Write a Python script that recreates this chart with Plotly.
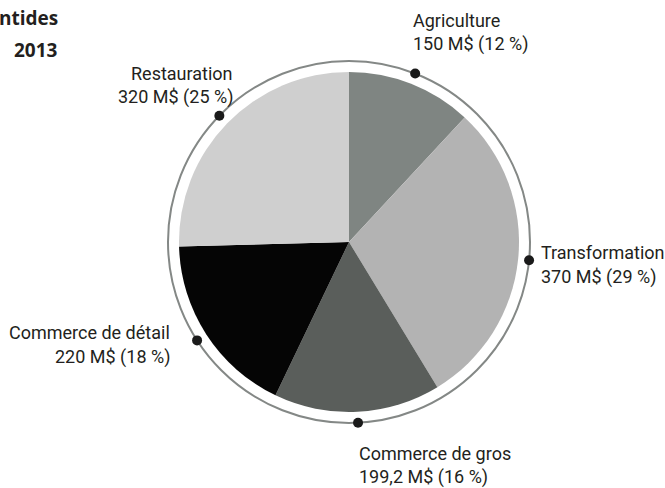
import math
import plotly.graph_objects as go

# ---- data ----
categories = ["Agriculture", "Transformation", "Commerce de gros", "Commerce de détail", "Restauration"]
values = [150, 370, 199.2, 220, 320]
value_labels = ["150", "370", "199,2", "220", "320"]
percents = [12, 29, 16, 18, 25]
colors = ["#7f8582", "#b3b3b3", "#5a5e5b", "#050505", "#cfcfcf"]
title_lines = ["ntides", "2013"]

# ---- layout constants (pixels) ----
W, H = 665, 488
CX, CY = 349, 242
R_PIE = 170
R_RING = 181
FONT = "Roboto"
TXT = "#231f20"

# label anchor positions (x, line1 center-y, line2 center-y, xanchor)
label_pos = {
    "Agriculture": (411, 20, 44, "left"),
    "Transformation": (539, 252, 277, "left"),
    "Commerce de gros": (357, 453, 477, "left"),
    "Commerce de détail": (172, 332, 357, "right"),
    "Restauration": (235, 73, 97, "right"),
}

fig = go.Figure()

fig.add_trace(go.Pie(
    labels=categories,
    values=values,
    sort=False,
    direction="clockwise",
    rotation=0,
    marker=dict(colors=colors, line=dict(width=0)),
    textinfo="none",
    hoverinfo="label+value",
    showlegend=False,
    domain=dict(x=[(CX - R_PIE) / W, (CX + R_PIE) / W],
                y=[1 - (CY + R_PIE) / H, 1 - (CY - R_PIE) / H]),
))

# dots at the middle angle of each slice on the ring
total = sum(values)
dx, dy = [], []
cum = 0
for v in values:
    mid = (cum + v / 2) / total * 2 * math.pi
    dx.append(CX + R_RING * math.sin(mid))
    dy.append(CY - R_RING * math.cos(mid))
    cum += v

fig.add_trace(go.Scatter(
    x=dx, y=dy, mode="markers",
    marker=dict(size=10, color="#1a1a1a"),
    hoverinfo="skip", showlegend=False,
))

fig.add_shape(type="circle", xref="x", yref="y",
              x0=CX - R_RING, x1=CX + R_RING, y0=CY - R_RING, y1=CY + R_RING,
              line=dict(color="#848886", width=2), layer="below")

annotations = []
for cat, vl, p in zip(categories, value_labels, percents):
    x, y1, y2, xa = label_pos[cat]
    for txt, yy in [(cat, y1), (f"{vl} M$ ({p} %)", y2)]:
        annotations.append(dict(
            x=x, y=yy, xref="x", yref="y", xanchor=xa, yanchor="middle",
            text=txt, showarrow=False,
            font=dict(family=FONT, size=18, color=TXT),
        ))

for t, yy in zip(title_lines, [18, 50]):
    annotations.append(dict(
        x=60, y=yy, xref="x", yref="y", xanchor="right", yanchor="middle",
        text=f"<b>{t}</b>", showarrow=False,
        font=dict(family="Open Sans", size=19, color=TXT),
    ))

fig.update_layout(
    width=W, height=H,
    margin=dict(l=0, r=0, t=0, b=0),
    paper_bgcolor="white", plot_bgcolor="white",
    xaxis=dict(range=[0, W], visible=False, fixedrange=True),
    yaxis=dict(range=[H, 0], visible=False, fixedrange=True),
    annotations=annotations,
)

fig.write_html("out.html", config={"displayModeBar": False},
               post_script="document.body.style.margin='0px';")
